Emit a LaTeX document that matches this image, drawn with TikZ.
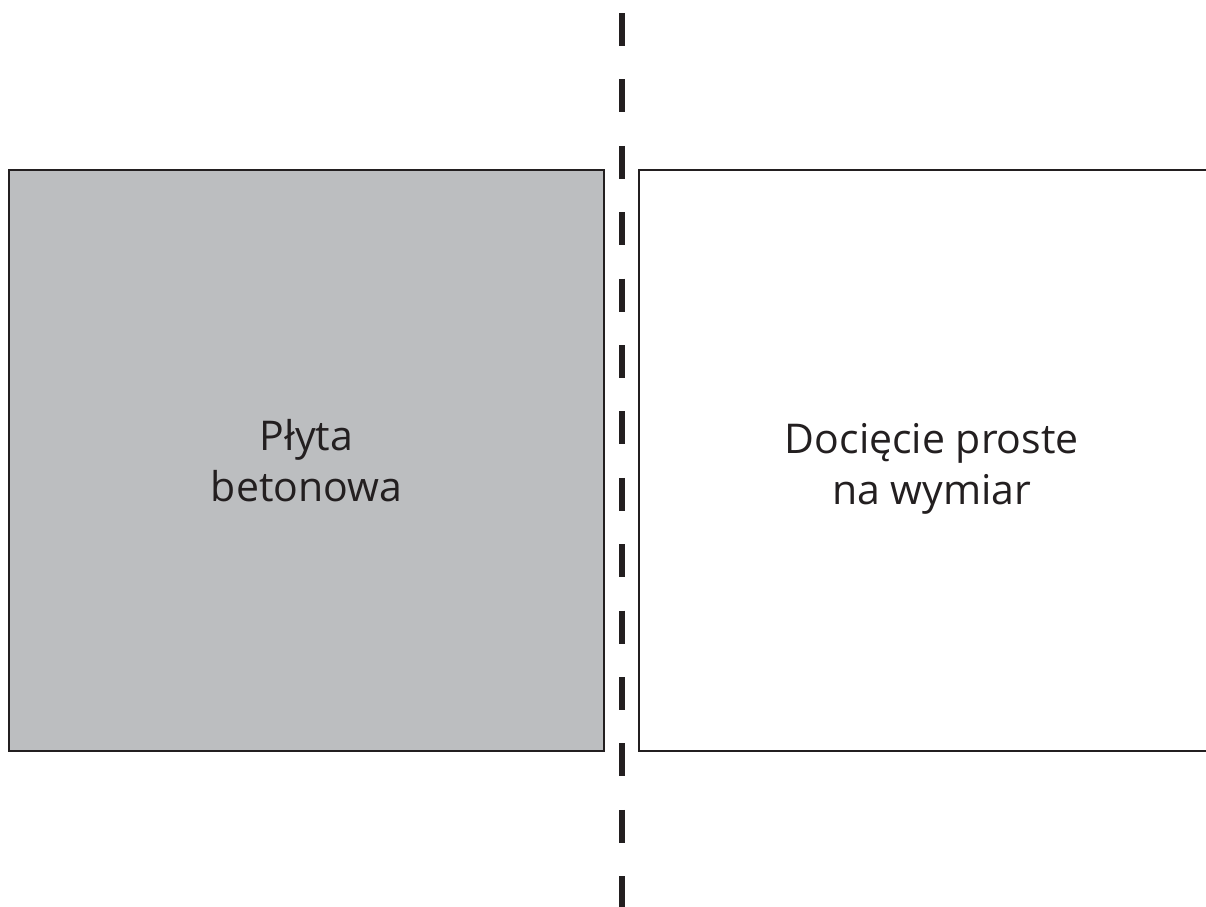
\documentclass[tikz,border=0pt]{standalone}
\usepackage{fontspec}
\setmainfont{Open Sans}
\definecolor{ink}{HTML}{231F20}
\definecolor{slab}{HTML}{BCBEC0}
\begin{document}
\begin{tikzpicture}[x=1pt,y=-1pt,
  box/.style={draw=ink, line width=2pt, inner sep=0pt, outer sep=0pt, anchor=north west},
  lbl/.style={text=ink, font=\fontsize{41}{51}\selectfont, align=center, inner sep=0pt},
  cutline/.style={draw=ink, line width=5.5pt, dash pattern=on 33pt off 33.4pt}]
\useasboundingbox (0,0) rectangle (1206,906);
\clip (0,0) rectangle (1206,906);
\node[box, fill=slab, minimum width=595pt, minimum height=581pt] (plyta) at (9,170) {};
\node[box, fill=white, minimum width=585pt, minimum height=581pt] (ciecie) at (639.3,170) {};
\node[lbl] (plytatxt) at (plyta.center) {Płyta\\betonowa};
\node[lbl, yshift=-8pt] (ciecietxt) at (ciecie.center) {Docięcie proste\\na wymiar};
\coordinate (cuttop) at (622,13);
\coordinate (cutbot) at (622,930);
\draw[cutline] (cuttop) -- (cutbot);
\end{tikzpicture}
\end{document}
